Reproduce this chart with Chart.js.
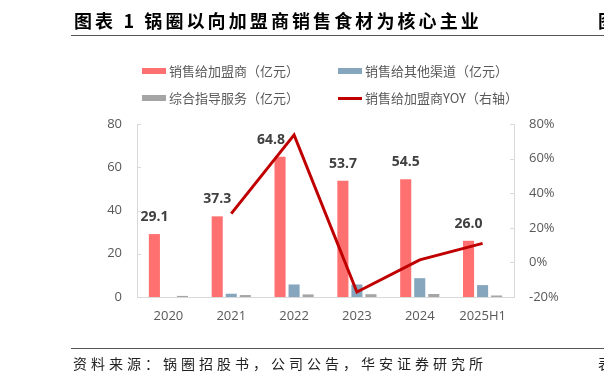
<!DOCTYPE html>
<html>
<head>
<meta charset="utf-8">
<script src="https://cdn.jsdelivr.net/npm/chart.js@4.4.1/dist/chart.umd.min.js"></script>
<style>
  html, body { margin: 0; padding: 0; background: #fff; }
  #wrap { position: relative; width: 604px; height: 386px; overflow: hidden; }
  #chartBox { position: absolute; left: 0; top: 0; width: 604px; height: 386px; }
  .title { position: absolute; left: 74px; top: 7px; font-family: "Noto Sans CJK SC", sans-serif; font-weight: bold; font-size: 18px; letter-spacing: 3.1px; color: #000; white-space: nowrap; line-height: 26px; }
  .titleRight { position: absolute; left: 598px; top: 7px; font-family: "Noto Sans CJK SC", sans-serif; font-weight: bold; font-size: 18px; color: #000; line-height: 26px; }
  .hline { position: absolute; left: 71px; width: 533px; height: 1px; background: #555; }
  .foot { position: absolute; left: 73px; top: 353px; font-family: "Noto Sans CJK SC", sans-serif; font-size: 14px; letter-spacing: 4px; color: #222; white-space: nowrap; line-height: 20px; }
  .footRight { position: absolute; left: 598px; top: 353px; font-family: "Noto Sans CJK SC", sans-serif; font-size: 14px; color: #222; line-height: 20px; }
  .leg { position: absolute; font-family: "Noto Sans CJK SC", sans-serif; font-size: 13px; color: #595959; white-space: nowrap; line-height: 18px; display: flex; align-items: center; }
  .sw { display: inline-block; width: 24px; margin-right: 3px; }
</style>
</head>
<body>
<div id="wrap">
  <div id="chartBox"><canvas id="c"></canvas></div>
  <div class="title">图表 1 锅圈以向加盟商销售食材为核心主业</div>
  <div class="titleRight">图</div>
  <div class="hline" style="top:35px;"></div>
  <div class="hline" style="top:348px;"></div>
  <div class="foot">资料来源：锅圈招股书，公司公告，华安证券研究所</div>
  <div class="footRight">表</div>
  <div id="legend"></div>
</div>
<script>
// ---- data ----
const categories = ["2020", "2021", "2022", "2023", "2024", "2025H1"];
const franchiseSales = [29.1, 37.3, 64.8, 53.7, 54.5, 26.0];   // 销售给加盟商（亿元）
const otherChannelSales = [0, 1.5, 5.8, 5.8, 8.7, 5.5];        // 销售给其他渠道（亿元）
const guidanceServices = [0.5, 0.9, 1.2, 1.3, 1.4, 0.7];        // 综合指导服务（亿元）
const franchiseYoY = [null, 28.2, 73.7, -17.1, 1.5, 11.0];      // 销售给加盟商YOY（右轴）, %
const leftTicks = [0, 20, 40, 60, 80];
const rightTicks = [-20, 0, 20, 40, 60, 80];
const seriesNames = ["销售给加盟商（亿元）", "销售给其他渠道（亿元）", "综合指导服务（亿元）", "销售给加盟商YOY（右轴）"];

const COLORS = { red: "#FF7171", blue: "#86A6BE", gray: "#A5A5A5", line: "#C00000", axis: "#D9D9D9", tick: "#595959" };

// value labels above the franchise bars
const labelShift = [0, 0, -9, 0, 0, 0];
const valueLabels = {
  id: "valueLabels",
  afterDatasetsDraw(chart) {
    const meta = chart.getDatasetMeta(0);
    const ctx = chart.ctx;
    ctx.save();
    ctx.font = "bold 14px 'Open Sans', sans-serif";
    ctx.fillStyle = "#404040";
    ctx.textAlign = "center";
    ctx.textBaseline = "middle";
    meta.data.forEach((bar, i) => {
      ctx.fillText(franchiseSales[i].toFixed(1), bar.x + labelShift[i], bar.y - 17);
    });
    ctx.restore();
  }
};

// small inward tick marks on both value axes
const innerTicks = {
  id: "innerTicks",
  afterDraw(chart) {
    const ctx = chart.ctx;
    ctx.save();
    ctx.strokeStyle = COLORS.axis;
    ctx.lineWidth = 1;
    const y = chart.scales.y, y1 = chart.scales.y1;
    y.ticks.forEach(t => {
      const py = Math.round(y.getPixelForValue(t.value)) + 0.5;
      ctx.beginPath(); ctx.moveTo(y.right, py); ctx.lineTo(y.right + 4, py); ctx.stroke();
    });
    y1.ticks.forEach(t => {
      const py = Math.round(y1.getPixelForValue(t.value)) + 0.5;
      ctx.beginPath(); ctx.moveTo(y1.left, py); ctx.lineTo(y1.left - 4, py); ctx.stroke();
    });
    ctx.restore();
  }
};

const chart = new Chart(document.getElementById("c"), {
  type: "bar",
  data: {
    labels: categories,
    datasets: [
      { type: "bar", label: seriesNames[0], data: franchiseSales, backgroundColor: COLORS.red, yAxisID: "y", order: 1, categoryPercentage: 0.67, barPercentage: 0.79 },
      { type: "bar", label: seriesNames[1], data: otherChannelSales, backgroundColor: COLORS.blue, yAxisID: "y", order: 1, categoryPercentage: 0.67, barPercentage: 0.79 },
      { type: "bar", label: seriesNames[2], data: guidanceServices, backgroundColor: COLORS.gray, yAxisID: "y", order: 1, categoryPercentage: 0.67, barPercentage: 0.79 },
      { type: "line", label: seriesNames[3], data: franchiseYoY, borderColor: COLORS.line, backgroundColor: COLORS.line, borderWidth: 3, pointRadius: 0, tension: 0, yAxisID: "y1", order: 0 }
    ]
  },
  options: {
    responsive: true,
    maintainAspectRatio: false,
    animation: false,
    layout: { padding: { top: 124, bottom: 59, left: 0, right: 0 } },
    plugins: { legend: { display: false }, tooltip: { enabled: false } },
    scales: {
      x: {
        grid: { display: false, drawTicks: false },
        border: { display: true, color: COLORS.axis, width: 1 },
        ticks: { color: COLORS.tick, font: { family: "'Open Sans', sans-serif", size: 13 }, padding: 11 },
        afterFit(s) { s.height = 30; }
      },
      y: {
        position: "left",
        min: 0, max: 80,
        afterBuildTicks(s) { s.ticks = leftTicks.map(v => ({ value: v })); },
        grid: { display: false, drawTicks: false },
        border: { display: true, color: COLORS.axis, width: 1 },
        ticks: { color: COLORS.tick, font: { family: "'Open Sans', sans-serif", size: 13 }, padding: 15 },
        afterFit(s) { s.width = 137; }
      },
      y1: {
        position: "right",
        min: -20, max: 80,
        afterBuildTicks(s) { s.ticks = rightTicks.map(v => ({ value: v })); },
        grid: { display: false, drawTicks: false },
        border: { display: true, color: COLORS.axis, width: 1 },
        ticks: { color: COLORS.tick, font: { family: "'Open Sans', sans-serif", size: 13 }, padding: 15, callback: v => v + "%" },
        afterFit(s) { s.width = 90; }
      }
    }
  },
  plugins: [valueLabels, innerTicks]
});

// HTML legend in a 2x2 grid, built from the chart datasets
const legendPos = [
  { left: 142, top: 62 }, { left: 338, top: 62 },
  { left: 142, top: 89 }, { left: 338, top: 89 }
];
const legendOrder = [0, 1, 2, 3];
const legendEl = document.getElementById("legend");
legendOrder.forEach((di, k) => {
  const ds = chart.data.datasets[di];
  const item = document.createElement("div");
  item.className = "leg";
  item.style.left = legendPos[k].left + "px";
  item.style.top = legendPos[k].top + "px";
  const sw = document.createElement("span");
  sw.className = "sw";
  if (ds.type === "line") { sw.style.height = "3px"; sw.style.background = ds.borderColor; }
  else { sw.style.height = "6px"; sw.style.background = ds.backgroundColor; }
  const tx = document.createElement("span");
  tx.textContent = ds.label;
  item.appendChild(sw); item.appendChild(tx);
  legendEl.appendChild(item);
});
</script>
</body>
</html>
